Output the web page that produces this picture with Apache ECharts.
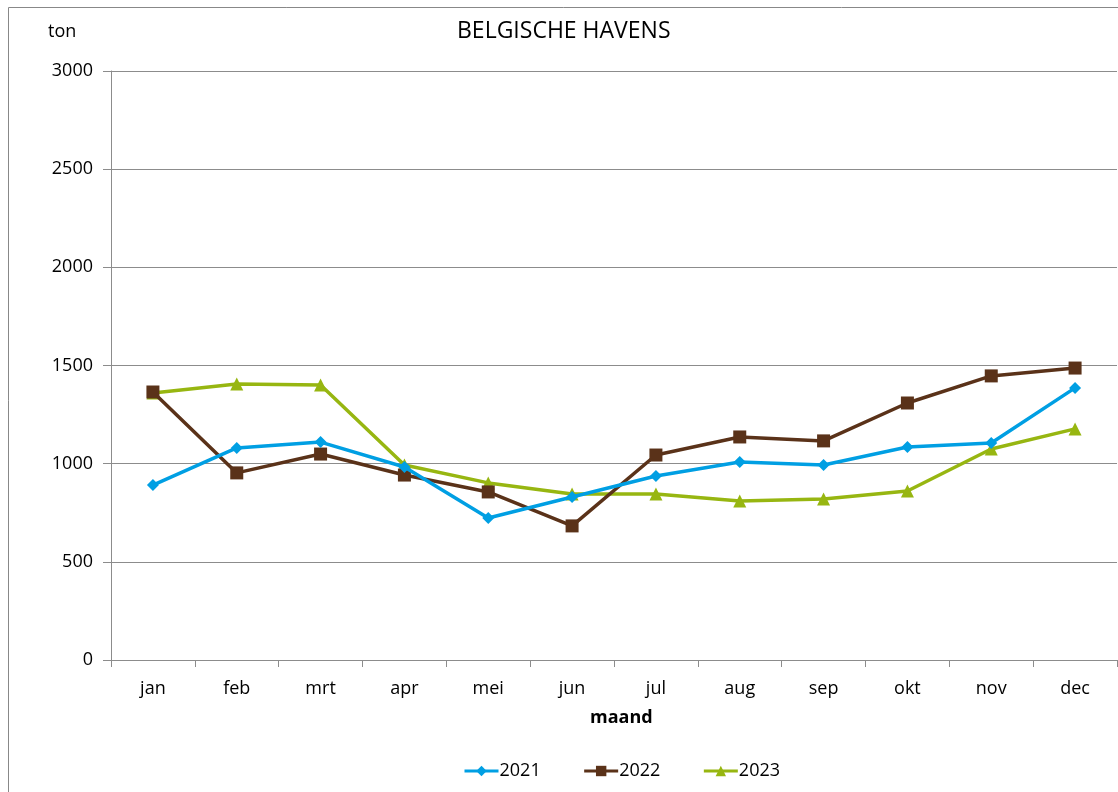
<!DOCTYPE html>
<html>
<head>
<meta charset="utf-8">
<script src="https://cdn.jsdelivr.net/npm/echarts@6/dist/echarts.min.js"></script>
<style>
html, body { margin: 0; padding: 0; background: #fff; }
#chart { width: 1118px; height: 792px; }
</style>
</head>
<body>
<div id="chart"></div>
<script>
var maanden = ['jan', 'feb', 'mrt', 'apr', 'mei', 'jun', 'jul', 'aug', 'sep', 'okt', 'nov', 'dec'];
var jaren = ['2021', '2022', '2023'];
var data2021 = [891, 1080, 1110, 983, 723, 830, 937, 1009, 993, 1085, 1105, 1386];
var data2022 = [1365, 953, 1049, 942, 856, 683, 1044, 1136, 1116, 1309, 1447, 1487];
var data2023 = [1360, 1406, 1401, 993, 902, 846, 846, 810, 820, 861, 1075, 1177];
var kleuren = ['#009FE3', '#5A3219', '#97B611'];
var symbolen = ['diamond', 'rect', 'triangle'];
var maten = [12, 13, 13];

var font = 'Open Sans, Noto Sans, sans-serif';
var reeksen = [data2021, data2022, data2023];

var series = jaren.map(function(j, i){
	return {
		name: j,
		type: 'line',
		data: reeksen[i],
		symbol: symbolen[i],
		symbolSize: maten[i],
		lineStyle: { color: kleuren[i], width: 3.5 },
		itemStyle: { color: kleuren[i] },
		z: 3 - i
	};
});

var myChart = echarts.init(document.getElementById('chart'));
myChart.setOption({
	animation: false,
	textStyle: { fontFamily: font },
	grid: { left: 111, right: 1, top: 71, bottom: 132 },
	graphic: [
		{ type: 'rect', shape: { x: 8.5, y: 7.5, width: 1200, height: 900 }, style: { fill: 'none', stroke: '#888', lineWidth: 1 }, silent: true },
		{ type: 'text', left: 48, top: 23, style: { text: 'ton', fontSize: 18, fontWeight: 500, fontFamily: font, fill: '#000' } },
		{ type: 'text', left: 457, top: 20, style: { text: 'BELGISCHE HAVENS', fontSize: 23, fontWeight: 500, fontFamily: font, fill: '#000', letterSpacing: -0.6 } },
		{ type: 'text', left: 590, top: 709, style: { text: 'maand', fontSize: 18, fontWeight: 'bold', fontFamily: font, fill: '#000' } }
	],
	legend: {
		data: jaren,
		left: 458,
		top: 757,
		itemGap: 42,
		itemWidth: 34,
		itemHeight: 13,
		lineStyle: { width: 3 },
		textStyle: { fontSize: 18, color: '#000', padding: [0, 0, 0, -4] }
	},
	xAxis: {
		type: 'category',
		data: maanden,
		boundaryGap: true,
		axisLine: { lineStyle: { color: '#8c8c8c', width: 1 } },
		axisTick: { show: true, length: 7, lineStyle: { color: '#8c8c8c' } },
		axisLabel: { fontSize: 18, color: '#000', margin: 20 }
	},
	yAxis: {
		type: 'value',
		min: 0,
		max: 3000,
		interval: 500,
		axisLine: { show: true, lineStyle: { color: '#8c8c8c' } },
		axisTick: { show: true, length: 8, lineStyle: { color: '#8c8c8c' } },
		axisLabel: { fontSize: 18, color: '#000', margin: 18, formatter: function(v){ return String(v); } },
		splitLine: { lineStyle: { color: '#8c8c8c', width: 1 } }
	},
	series: series
});
</script>
</body>
</html>
